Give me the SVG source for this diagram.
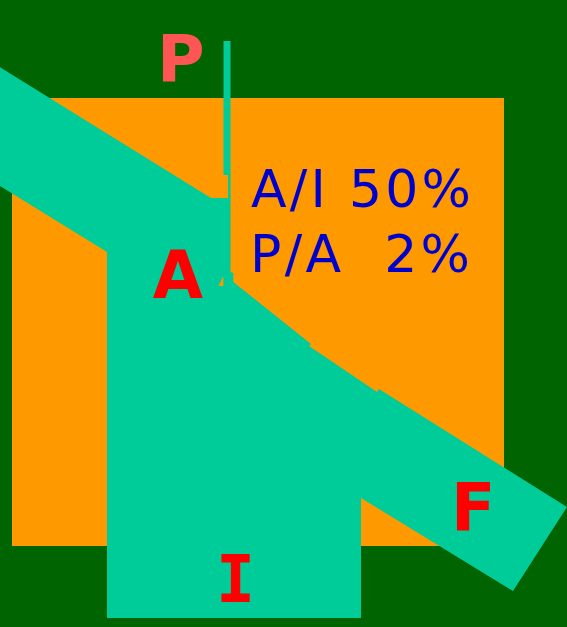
<svg xmlns="http://www.w3.org/2000/svg" width="567" height="627" viewBox="0 0 567 627">
<style>
.flow{fill:#00CC99}
.lbl{font-family:"DejaVu Sans","Liberation Sans",sans-serif;font-weight:bold;font-size:65px;fill:#FF0000}
.pct{font-family:"DejaVu Sans","Liberation Sans",sans-serif;font-size:52px;fill:#0000CC}
</style>
<rect id="background" x="0" y="0" width="567" height="627" fill="#006400"/>
<rect id="area" x="12" y="98" width="492" height="448" fill="#FF9900"/>
<g id="connectors">
<polygon class="flow" points="0,67.3 211,198 230.5,198 230.5,272 233.3,273 233.3,282 311,344 309,346 377,392 379,389 567,507 513,591 361,498 361,618 107,618 107,252 0,186"/>
<polygon fill="#FF9900" points="223.3,276 218.5,286 223.3,286"/>
<rect class="flow" x="223.5" y="41" width="7" height="134"/>
<rect class="flow" x="228" y="174" width="2.5" height="25"/>
</g>
<g id="node-P"><text class="lbl" x="157" y="81.7" style="fill:#FF5555">P</text></g>
<g id="node-A"><text class="lbl" x="178" y="298" text-anchor="middle">A</text></g>
<g id="node-F"><text class="lbl" x="451" y="530">F</text></g>
<g id="node-I"><text class="lbl" x="235.5" y="601.7" text-anchor="middle" style="font-family:'DejaVu Sans Mono','Liberation Mono',monospace">I</text></g>
<g id="node-ratios">
<text class="pct" x="251" y="207" textLength="220" lengthAdjust="spacing">A/I 50%</text>
<text class="pct" x="250" y="272" textLength="220" lengthAdjust="spacing" xml:space="preserve">P/A  2%</text>
</g>
</svg>
